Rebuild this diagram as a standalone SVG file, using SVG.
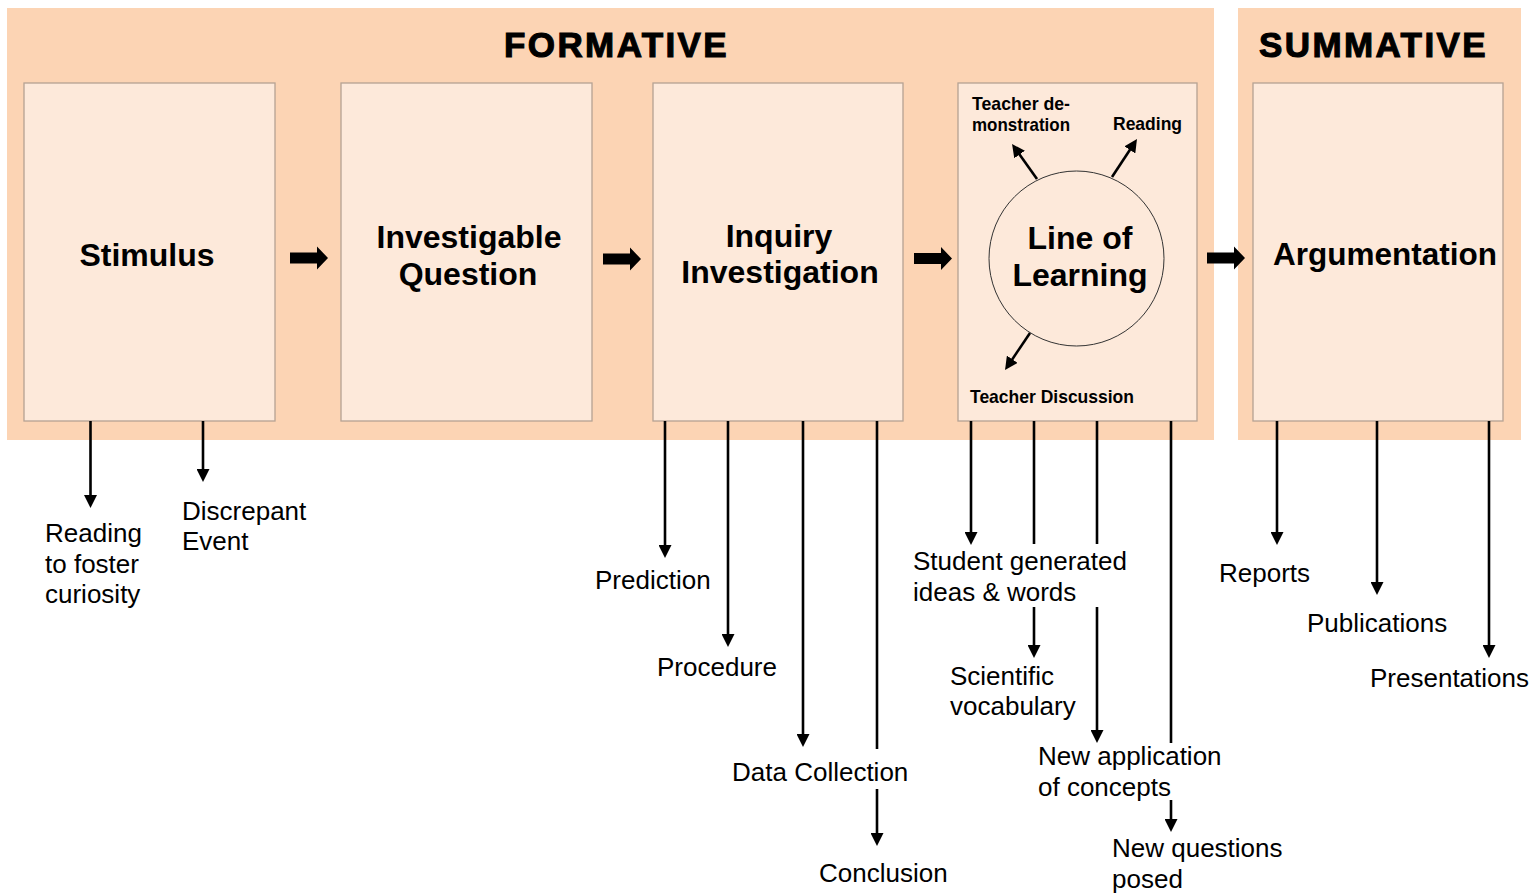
<svg xmlns="http://www.w3.org/2000/svg" width="1539" height="896" viewBox="0 0 1539 896">
  <style>
    .panel { fill: #FCD4B4; }
    .box { fill: #FDE9DA; stroke: #B5A293; stroke-width: 1.3; }
    .title { font-family: "Liberation Sans", Arial, sans-serif; font-weight: bold; font-size: 35px; letter-spacing: 2.4px; fill: #000; stroke: #000; stroke-width: 1.1px; }
    .stage { font-family: "Liberation Sans", Arial, sans-serif; font-weight: bold; font-size: 32px; fill: #000; text-anchor: middle; }
    .small { font-family: "Liberation Sans", Arial, sans-serif; font-weight: bold; font-size: 19px; fill: #000; }
    .label { font-family: "Liberation Sans", Arial, sans-serif; font-size: 26px; fill: #000; }
    .conn { stroke: #000; stroke-width: 2.6; fill: none; }
    .arr { marker-end: url(#head); }
    .block { fill: #000; }
  </style>
  <defs>
    <marker id="head" viewBox="0 0 13 13" refX="5" refY="6.5" markerWidth="13" markerHeight="13" markerUnits="userSpaceOnUse" orient="auto">
      <path d="M0,0 L13,6.5 L0,13 Z" fill="#000"/>
    </marker>
    <path id="block-arrow" d="M0,-5.5 H27 V-11.5 L38,0 L27,11.5 V5.5 H0 Z"/>
  </defs>

  <!-- background panels -->
  <g id="formative-panel">
    <rect class="panel" x="7" y="8" width="1207" height="432"/>
    <text class="title" x="504" y="57">FORMATIVE</text>
  </g>
  <g id="summative-panel">
    <rect class="panel" x="1238" y="8" width="283" height="432"/>
    <text class="title" x="1259" y="57">SUMMATIVE</text>
  </g>

  <!-- stage boxes -->
  <g id="stimulus">
    <rect class="box" x="24" y="83" width="251" height="338"/>
    <text class="stage" x="147" y="266">Stimulus</text>
  </g>
  <g id="investigable-question">
    <rect class="box" x="341" y="83" width="251" height="338"/>
    <text class="stage" x="469" y="248">Investigable</text>
    <text class="stage" x="468" y="285">Question</text>
  </g>
  <g id="inquiry-investigation">
    <rect class="box" x="653" y="83" width="250" height="338"/>
    <text class="stage" x="779" y="247">Inquiry</text>
    <text class="stage" x="780" y="283">Investigation</text>
  </g>
  <g id="line-of-learning">
    <rect class="box" x="958" y="83" width="239" height="338"/>
    <circle cx="1076.5" cy="258.5" r="87.5" fill="none" stroke="#333" stroke-width="1"/>
    <text class="stage" x="1080" y="249">Line of</text>
    <text class="stage" x="1080" y="286">Learning</text>
    <text class="small" x="972" y="110" textLength="98" lengthAdjust="spacingAndGlyphs">Teacher de-</text>
    <text class="small" x="972" y="131" textLength="98" lengthAdjust="spacingAndGlyphs">monstration</text>
    <text class="small" x="1113" y="130" textLength="69" lengthAdjust="spacingAndGlyphs">Reading</text>
    <text class="small" x="970" y="403" textLength="164" lengthAdjust="spacingAndGlyphs">Teacher Discussion</text>
  </g>
  <g id="argumentation">
    <rect class="box" x="1253" y="83" width="250" height="338"/>
    <text class="stage" x="1385" y="265" style="font-size:31.5px">Argumentation</text>
  </g>

  <!-- outcome labels -->
  <g id="stimulus-outcomes">
    <text class="label" x="45" y="542">Reading</text>
    <text class="label" x="45" y="573">to foster</text>
    <text class="label" x="45" y="603">curiosity</text>
    <text class="label" x="182" y="520">Discrepant</text>
    <text class="label" x="182" y="550">Event</text>
  </g>
  <g id="inquiry-outcomes">
    <text class="label" x="595" y="589">Prediction</text>
    <text class="label" x="657" y="676">Procedure</text>
    <text class="label" x="732" y="781">Data Collection</text>
    <text class="label" x="819" y="882">Conclusion</text>
  </g>
  <g id="learning-outcomes">
    <text class="label" x="913" y="570">Student generated</text>
    <text class="label" x="913" y="601">ideas &amp; words</text>
    <text class="label" x="950" y="685">Scientific</text>
    <text class="label" x="950" y="715">vocabulary</text>
    <text class="label" x="1038" y="765">New application</text>
    <text class="label" x="1038" y="796">of concepts</text>
    <text class="label" x="1112" y="857">New questions</text>
    <text class="label" x="1112" y="888">posed</text>
  </g>
  <g id="argumentation-outcomes">
    <text class="label" x="1219" y="582">Reports</text>
    <text class="label" x="1307" y="632">Publications</text>
    <text class="label" x="1370" y="687">Presentations</text>
  </g>

  <!-- connectors -->
  <g id="connectors">
    <!-- flow between stages -->
    <use class="block" href="#block-arrow" x="290" y="258"/>
    <use class="block" href="#block-arrow" x="603" y="259"/>
    <use class="block" href="#block-arrow" x="914" y="258.5"/>
    <use class="block" href="#block-arrow" x="1207" y="258"/>

    <!-- stimulus -->
    <line class="conn arr" x1="90.5" y1="421" x2="90.5" y2="500"/>
    <line class="conn arr" x1="203" y1="421" x2="203" y2="474"/>

    <!-- inquiry -->
    <line class="conn arr" x1="665" y1="421" x2="665" y2="550"/>
    <line class="conn arr" x1="728" y1="421" x2="728" y2="639"/>
    <line class="conn arr" x1="803" y1="421" x2="803" y2="739"/>
    <line class="conn" x1="877" y1="421" x2="877" y2="749"/>
    <line class="conn arr" x1="877" y1="789" x2="877" y2="838"/>

    <!-- line of learning, inside the box -->
    <line class="conn arr" x1="1037" y1="179" x2="1016.7" y2="150.5"/>
    <line class="conn arr" x1="1112" y1="177" x2="1132.6" y2="145.7"/>
    <line class="conn arr" x1="1030" y1="333" x2="1009.5" y2="363.4"/>

    <!-- line of learning, below the box -->
    <line class="conn arr" x1="971" y1="421" x2="971" y2="537"/>
    <line class="conn" x1="1034" y1="421" x2="1034" y2="544"/>
    <line class="conn arr" x1="1034" y1="607" x2="1034" y2="650"/>
    <line class="conn" x1="1097" y1="421" x2="1097" y2="544"/>
    <line class="conn arr" x1="1097" y1="607" x2="1097" y2="735"/>
    <line class="conn" x1="1171" y1="421" x2="1171" y2="743"/>
    <line class="conn arr" x1="1171" y1="800" x2="1171" y2="824"/>

    <!-- argumentation -->
    <line class="conn arr" x1="1277" y1="421" x2="1277" y2="537"/>
    <line class="conn arr" x1="1377" y1="421" x2="1377" y2="587"/>
    <line class="conn arr" x1="1489" y1="421" x2="1489" y2="650"/>
  </g>
</svg>
